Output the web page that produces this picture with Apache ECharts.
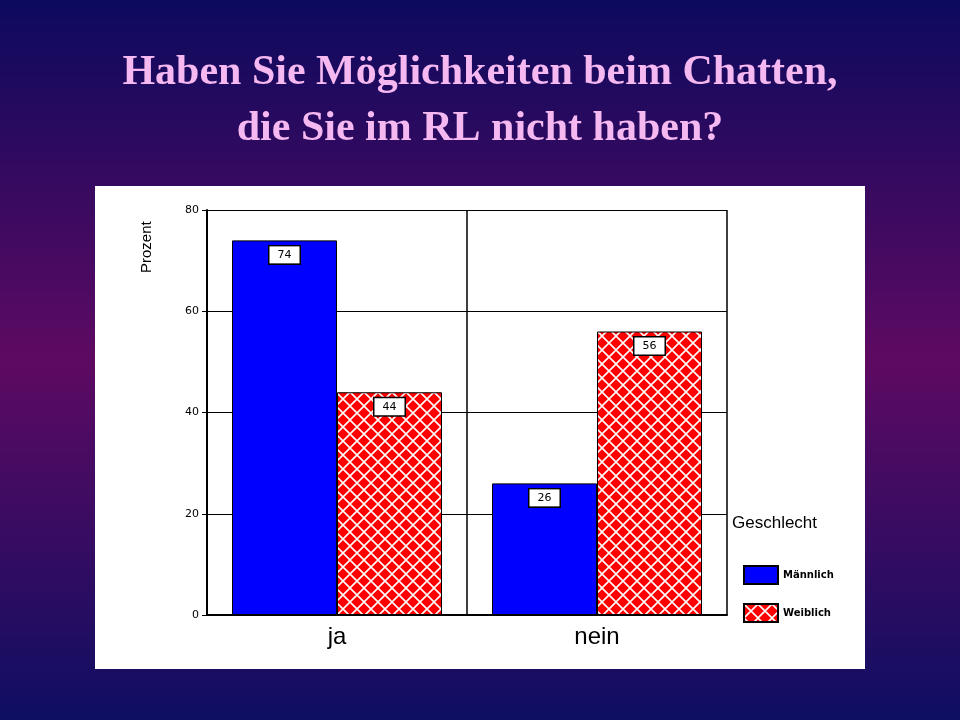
<!DOCTYPE html>
<html><head><meta charset="utf-8">
<script src="https://cdn.jsdelivr.net/npm/echarts@6/dist/echarts.min.js"></script>
<style>html,body{margin:0;padding:0;}#c{width:960px;height:720px;}</style>
</head><body><div id="c"></div>
<script>
const categories = ['ja', 'nein'];
const maennlich = [74, 26];
const weiblich = [44, 56];
const yTicks = [0, 20, 40, 60, 80];

const pc = document.createElement('canvas');
pc.width = 14; pc.height = 14;
const g = pc.getContext('2d');
g.fillStyle = '#ff0000'; g.fillRect(0,0,14,14);
g.strokeStyle = '#ffffff'; g.lineWidth = 1.6;
g.beginPath(); g.moveTo(0,0); g.lineTo(14,14); g.moveTo(14,0); g.lineTo(0,14); g.stroke();
const pattern = {image: pc, repeat: 'repeat'};

const chart = echarts.init(document.getElementById('c'));
const lbl = {show:true, position:'insideTop', distance:6, color:'#000', backgroundColor:'#fff',
  borderColor:'#000', borderWidth:1.5, padding:[3,8], fontSize:11, fontFamily:'DejaVu Sans'};
chart.setOption({
  backgroundColor: {type:'linear', x:0, y:0, x2:0, y2:1, colorStops:[
    {offset:0, color:'#0c0a5e'}, {offset:0.5, color:'#5e0a62'}, {offset:1, color:'#0e0e62'}]},
  title: {text:'Haben Sie Möglichkeiten beim Chatten,\ndie Sie im RL nicht haben?', left:'center', top:40,
    textStyle:{color:'#f5b8f0', fontFamily:'Liberation Serif', fontWeight:'bold', fontSize:42, lineHeight:56}},
  graphic:[
    {type:'rect', z:-1, shape:{x:95, y:186, width:770, height:483}, style:{fill:'#ffffff'}},
    {type:'text', left:732, top:515, style:{text:'Geschlecht', font:'17px "Liberation Sans"', fill:'#000'}},
    {type:'text', x:147, y:273, rotation:Math.PI/2, style:{text:'Prozent', font:'15px "Liberation Sans"', fill:'#000', textAlign:'left', textVerticalAlign:'middle'}}
  ],
  legend: {orient:'vertical', left:738, top:560, itemGap:18, itemWidth:34, itemHeight:18,
    textStyle:{fontSize:10, color:'#000', fontFamily:'DejaVu Sans', fontWeight:'bold'},
    data:[{name:'Männlich', icon:'rect'},{name:'Weiblich', icon:'rect'}]},
  grid: {left:207, right:233, top:210, bottom:105},
  xAxis: {type:'category', data:categories, axisTick:{show:false},
    axisLine:{lineStyle:{color:'#000', width:2}},
    axisLabel:{fontSize:24, color:'#000', fontFamily:'Liberation Sans', margin:10},
    splitLine:{show:true, lineStyle:{color:'#000', width:1.5}}},
  yAxis: {type:'value', min:0, max:80, interval:20,
    axisLine:{show:true, lineStyle:{color:'#000', width:2}},
    axisTick:{show:true, length:5, lineStyle:{color:'#000'}},
    axisLabel:{fontSize:11, color:'#000', fontFamily:'DejaVu Sans', formatter:v=>yTicks.includes(v)?String(v):''},
    splitLine:{lineStyle:{color:'#000', width:1}}},
  series: [
    {name:'Männlich', type:'bar', data:maennlich, barWidth:105, barGap:'0%',
      itemStyle:{color:'#0000ff', borderColor:'#000', borderWidth:1}, label:lbl},
    {name:'Weiblich', type:'bar', data:weiblich, barWidth:105,
      itemStyle:{color:pattern, borderColor:'#000', borderWidth:1}, label:lbl}
  ]
});
</script></body></html>
